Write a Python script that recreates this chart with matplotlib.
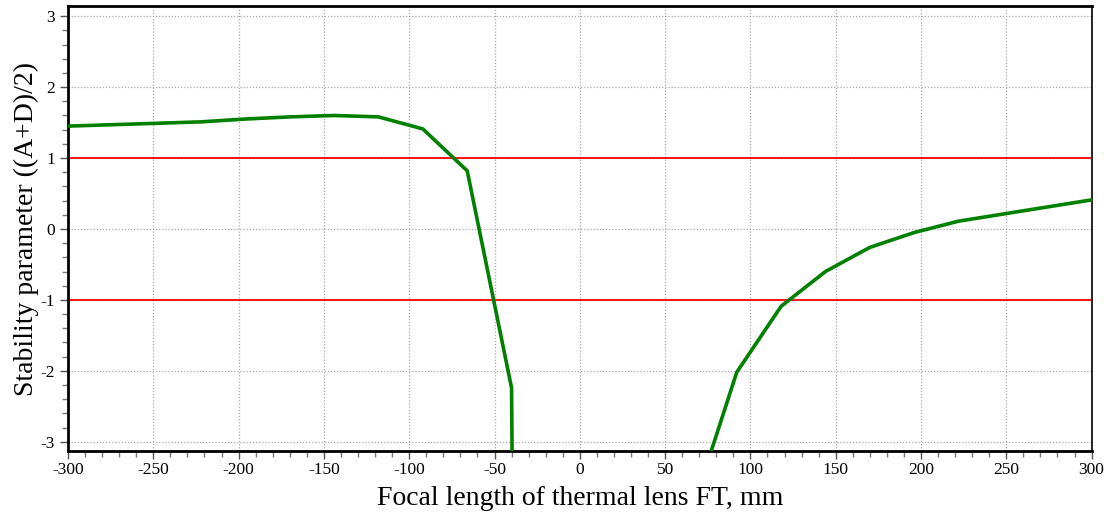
import numpy as np
import matplotlib
matplotlib.use("Agg")
import matplotlib.pyplot as plt
from matplotlib.ticker import MultipleLocator

# left branch (FT < 0)
ft_left = [-300, -274, -248, -222, -196, -170, -144, -118, -92, -66, -40, -14]
s_left = [1.45, 1.47, 1.49, 1.51, 1.55, 1.58, 1.60, 1.58, 1.41, 0.82, -2.24, -80.0]

# right branch (FT > 0)
ft_right = [66, 92, 118, 144, 170, 196, 222, 248, 274, 300]
s_right = [-3.95, -2.02, -1.09, -0.60, -0.26, -0.05, 0.11, 0.21, 0.31, 0.41]

stab_limits = [1, -1]

plt.rcParams['font.family'] = ['Liberation Serif', 'DejaVu Serif']
plt.rcParams['axes.unicode_minus'] = False

fig = plt.figure(figsize=(11.15, 5.19), dpi=100)
ax = fig.add_axes([0.061, 0.131, 0.918, 0.857])

for lim in stab_limits:
    ax.axhline(lim, color='red', lw=1.3, zorder=2)

ax.plot(ft_left, s_left, color='green', lw=2.6, zorder=3)
ax.plot(ft_right, s_right, color='green', lw=2.6, zorder=3)

ax.set_xlim(-300, 300)
ax.set_ylim(-3.13, 3.14)
ax.xaxis.set_major_locator(MultipleLocator(50))
ax.xaxis.set_minor_locator(MultipleLocator(10))
ax.yaxis.set_major_locator(MultipleLocator(1))
ax.yaxis.set_minor_locator(MultipleLocator(0.2))

ax.grid(True, which='major', color='#aaaaaa', ls=(0, (1, 1.5)), lw=0.9)
ax.tick_params(which='major', direction='out', length=6, width=1, color='#555555', labelsize=12.5)
ax.tick_params(which='minor', direction='out', length=4, width=1, color='#777777')
ax.tick_params(axis='x', pad=2)

for side in ['left', 'bottom', 'top']:
    ax.spines[side].set_linewidth(2)
ax.spines['right'].set_linewidth(1.2)

ax.set_xlabel('Focal length of thermal lens FT, mm', fontsize=20, labelpad=6)
ax.set_ylabel('Stability parameter ((A+D)/2)', fontsize=20, labelpad=1)

fig.savefig('out.png', dpi=100)
